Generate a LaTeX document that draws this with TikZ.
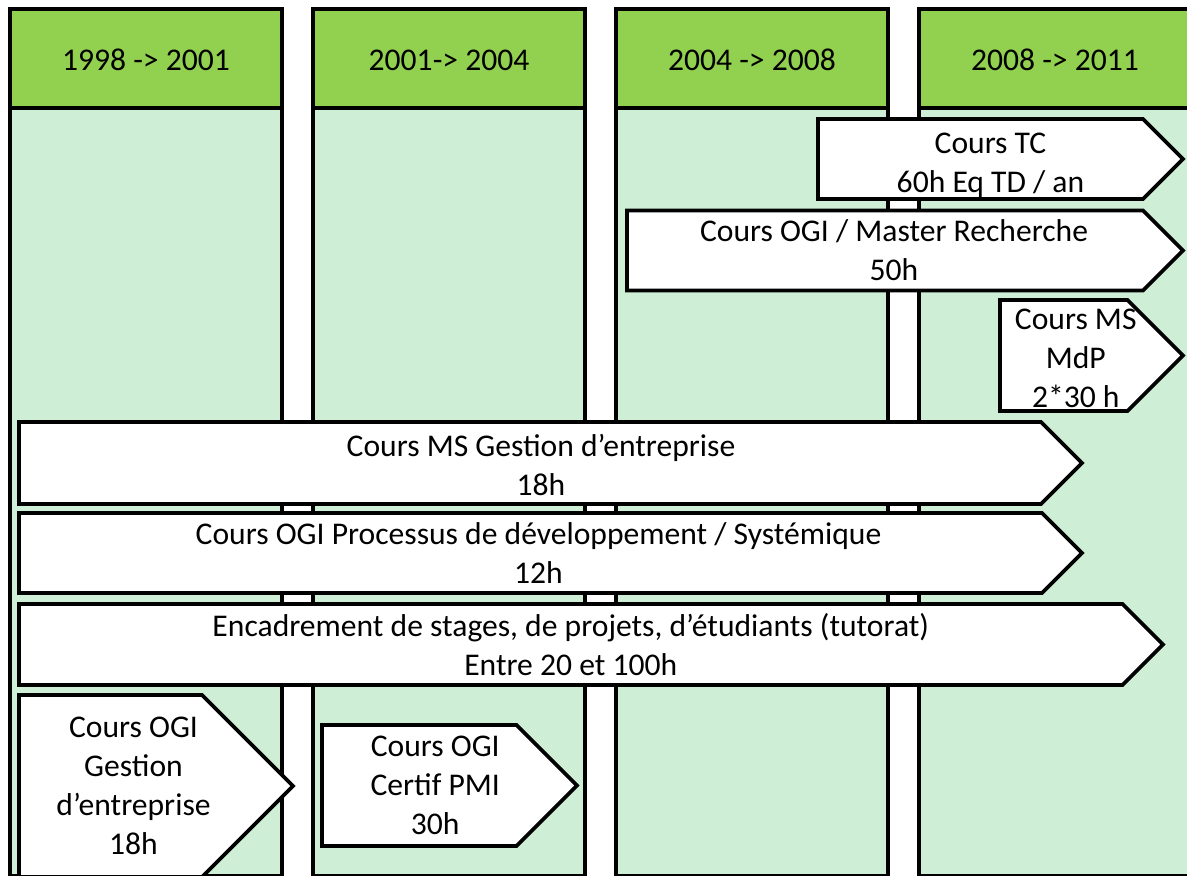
\documentclass[tikz,border=0pt]{standalone}
\usepackage{fontspec}
\setmainfont{Carlito}
\usetikzlibrary{positioning,shapes.symbols}
\definecolor{headgreen}{RGB}{146,208,80}
\definecolor{gridgreen}{RGB}{206,238,214}

\begin{document}
\begin{tikzpicture}[%
	x=0.5pt, y=-0.5pt,
	font=\fontsize{15.8}{19.5}\selectfont,
	outer sep=0pt, align=center,
	period/.style={draw, line width=2pt, fill=headgreen,
		minimum width=136pt, minimum height=49.5pt,
		text height=11.5pt, text depth=0pt},
	column/.style={draw, line width=2pt, fill=gridgreen,
		minimum width=136pt, minimum height=384pt},
	course/.style={signal, signal to=east, signal pointer angle=90,
		draw, line width=1.8pt, fill=white, anchor=west, inner sep=0pt}
	]
	\clip (0,0) rectangle (1187,875);
	\fill[white] (0,0) rectangle (1187,875);
	
	% periods
	\node[period] (h1) at (146,58.5) {1998 -> 2001};
	\node[period] (h2) [right=15.5pt of h1] {2001-> 2004};
	\node[period] (h3) [right=15.5pt of h2] {2004 -> 2008};
	\node[period] (h4) [right=15.5pt of h3] {2008 -> 2011};
	
	\node[column] (c1) [below=0pt of h1] {};
	\node[column] (c2) [below=0pt of h2] {};
	\node[column] (c3) [below=0pt of h3] {};
	\node[column] (c4) [below=0pt of h4] {};
	
	% courses (text as centre label, pushed towards the tip)
	\node[course, minimum width=182.5pt, minimum height=40pt,
		label={[xshift=5pt, yshift=-3pt]center:{Cours TC\\60h Eq TD / an}}] (tc) at (818,159) {};
	\node[course, minimum width=278pt, minimum height=40pt,
		label={[xshift=4.5pt]center:{Cours OGI / Master Recherche\\50h}}] (master) at (627,250.5) {};
	\node[course, minimum width=91.5pt, minimum height=55.5pt,
		label={[xshift=6pt, yshift=-1.5pt]center:{Cours MS\\MdP\\2*30 h}}] (mdp) at (1000,355.5) {};
	\node[course, minimum width=531.5pt, minimum height=41pt,
		label={[xshift=5.5pt, yshift=-1pt]center:{Cours MS Gestion d’entreprise\\18h}}] (msge) at (19,463) {};
	\node[course, minimum width=531.5pt, minimum height=40pt,
		label={[xshift=4pt]center:{Cours OGI Processus de développement / Systémique\\12h}}] (proc) at (19,553) {};
	\node[course, minimum width=572pt, minimum height=40.5pt,
		label={center:{Encadrement de stages, de projets, d’étudiants (tutorat)\\Entre 20 et 100h}}] (enc) at (19,644.5) {};
	\node[course, minimum width=137pt, minimum height=91pt,
		label={[xshift=11.5pt]center:{Cours OGI\\Gestion\\d’entreprise\\18h}}] (ogige) at (19,786) {};
	\node[course, minimum width=127.5pt, minimum height=60.5pt,
		label={[xshift=8pt]center:{Cours OGI\\Certif PMI\\30h}}] (pmi) at (322,785.5) {};
\end{tikzpicture}
\end{document}
